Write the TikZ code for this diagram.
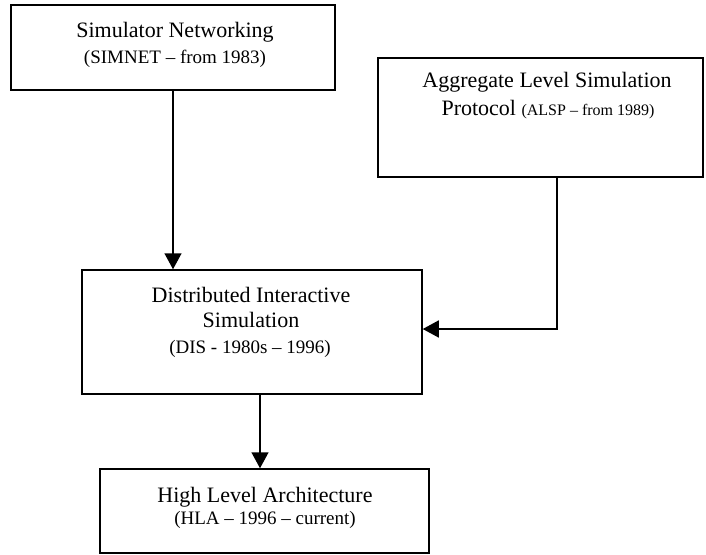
\documentclass[tikz,border=0pt]{standalone}
\usepackage{fontspec}
\setmainfont{Liberation Serif}
\usetikzlibrary{arrows.meta}

\tikzset{
  stagebox/.style={draw=black, line width=1.5pt, rectangle, inner sep=0pt},
  bigline/.style={font=\fontsize{22}{26}\selectfont, anchor=base, inner sep=0pt},
  smallline/.style={font=\fontsize{19}{24}\selectfont, anchor=base, inner sep=0pt},
  flow/.style={draw=black, line width=1.5pt, -{Triangle[length=16pt,width=17pt]}}
}

\begin{document}
\begin{tikzpicture}[x=1pt,y=-1pt]
  \useasboundingbox (0,0) rectangle (706,554);

  % stage boxes
  \node[stagebox, minimum width=324pt, minimum height=85pt]  (simnet) at (173,47.5) {};
  \node[stagebox, minimum width=325pt, minimum height=119pt] (alsp)   at (540.5,117.5) {};
  \node[stagebox, minimum width=340pt, minimum height=124pt] (dis)    at (252,332) {};
  \node[stagebox, minimum width=329pt, minimum height=84pt]  (hla)    at (264.5,511) {};

  % box texts
  \node[bigline]   (simnet1) at (175,37) {Simulator Networking};
  \node[smallline] (simnet2) at (175,63) {(SIMNET – from 1983)};

  \node[bigline] (alsp1) at (547,87) {Aggregate Level Simulation};
  \node[bigline] (alsp2) at (548,115) {Protocol {\fontsize{16}{20}\selectfont (ALSP – from 1989)}};

  \node[bigline]   (dis1) at (251,302) {Distributed Interactive};
  \node[bigline]   (dis2) at (251,327) {Simulation};
  \node[smallline] (dis3) at (250,353) {(DIS - 1980s – 1996)};

  \node[bigline]   (hla1) at (265,502) {High Level Architecture};
  \node[smallline] (hla2) at (265,524) {(HLA – 1996 – current)};

  % connectors
  \draw[flow] (simnet.south) -- (simnet.south |- dis.north);
  \draw[flow] ([xshift=16.5pt]alsp.south) -- ([xshift=16.5pt]alsp.south |- 0,329) -- (dis.east |- 0,329);
  \draw[flow] ([xshift=8pt]dis.south) -- ([xshift=8pt]dis.south |- hla.north);
\end{tikzpicture}
\end{document}
